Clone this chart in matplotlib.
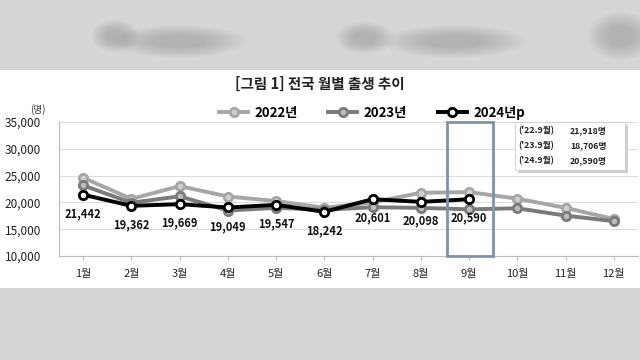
import matplotlib.pyplot as plt
from matplotlib.patches import Rectangle, Ellipse
import numpy as np

plt.rcParams['font.family'] = ['Noto Sans CJK KR', 'DejaVu Sans']

months = ['1월', '2월', '3월', '4월', '5월', '6월', '7월', '8월', '9월', '10월', '11월', '12월']
births_2022 = [24598, 20654, 23036, 21100, 20250, 18988, 20000, 21800, 21918, 20700, 18981, 16900]
births_2023 = [23179, 19939, 21138, 18484, 18988, 18615, 19102, 18984, 18706, 18904, 17531, 16500]
births_2024 = [21442, 19362, 19669, 19049, 19547, 18242, 20601, 20098, 20590]
yticks = [10000, 15000, 20000, 25000, 30000, 35000]
note_lines = [("('22.9월)", '21,918명'), ("('23.9월)", '18,706명'), ("('24.9월)", '20,590명')]

fig = plt.figure(figsize=(6.4, 3.6), dpi=100)
fig.patch.set_facecolor('#d6d6d6')

# white chart panel inside the grey screen
fig.patches.append(Rectangle((0, 72 / 360), 1, 218 / 360, transform=fig.transFigure,
                             facecolor='white', edgecolor='none', zorder=0))
# blurred caption blobs at the top
for cx, cy, w, h in [(0.18, 0.9, 0.05, 0.06), (0.28, 0.885, 0.14, 0.06),
                     (0.57, 0.895, 0.06, 0.06), (0.71, 0.885, 0.15, 0.06), (0.97, 0.9, 0.07, 0.09)]:
    for k in range(10):
        s = 1.5 - k * 0.1
        fig.patches.append(Ellipse((cx, cy), w * s, h * s, transform=fig.transFigure,
                                   facecolor='#8a8a8a', edgecolor='none', alpha=0.05, zorder=0))

ax = fig.add_axes([59 / 640, 1 - 256 / 360, 579 / 640, 134 / 360])
ax.set_zorder(3)
ax.set_facecolor('none')
x = np.arange(1, 13)

ax.plot(x, births_2022, color='#a6a6a6', lw=2.8, marker='o', ms=6, mfc='#d0d0d0',
        mec='#a6a6a6', mew=2, label='2022년', zorder=3)
ax.plot(x, births_2023, color='#7a7a7a', lw=2.8, marker='o', ms=6, mfc='#bdbdbd',
        mec='#7a7a7a', mew=2, label='2023년', zorder=4)
x24 = np.arange(1, len(births_2024) + 1)
ax.plot(x24, births_2024, color='black', lw=2.8, marker='o', ms=6, mfc='white',
        mec='black', mew=2, label='2024년p', zorder=5)

for xi, v in zip(x24, births_2024):
    ax.annotate(f'{v:,}', (xi, v), xytext=(0, -9), textcoords='offset points',
                ha='center', va='top', fontsize=8, fontweight='bold', color='#111111', zorder=6)

ax.set_xlim(0.5, 12.5)
ax.set_ylim(10000, 35000)
ax.set_yticks(yticks)
ax.set_yticklabels([f'{t:,}' for t in yticks], fontsize=8.5, color='#222222')
ax.set_xticks(x)
ax.set_xticklabels(months, fontsize=8, color='#222222')
ax.tick_params(axis='y', length=0, pad=13)
ax.tick_params(axis='x', length=3, color='#bbbbbb', pad=6)
ax.grid(axis='y', color='#dddddd', lw=0.8)
ax.set_axisbelow(True)
for s in ['top', 'right']:
    ax.spines[s].set_visible(False)
ax.spines['left'].set_color('#bbbbbb')
ax.spines['bottom'].set_color('#bbbbbb')

# highlight of September
ax.add_patch(Rectangle((8.55, 10000), 0.95, 25000, fill=False, edgecolor='#7f93ab',
                       lw=2, zorder=7, clip_on=False))

# note box
bx0, by0 = 515 / 640, 1 - 170 / 360
fig.patches.append(Rectangle((bx0 + 0.004, by0 - 0.008), 110 / 640, 48 / 360,
                             transform=fig.transFigure, facecolor='#cfcfcf', edgecolor='none', zorder=4))
fig.patches.append(Rectangle((bx0, by0), 110 / 640, 48 / 360, transform=fig.transFigure,
                             facecolor='white', edgecolor='#cccccc', lw=0.6, zorder=4))
for i, (a, b) in enumerate(note_lines):
    yy = 1 - (131 + i * 15) / 360
    fig.text(518 / 640, yy, a, fontsize=6.3, fontweight='bold', va='center', color='#222222', zorder=5)
    fig.text(570 / 640, yy, b, fontsize=6.3, fontweight='bold', va='center', color='#222222', zorder=5)

fig.text(320 / 640, 1 - 84 / 360, '[그림 1] 전국 월별 출생 추이', ha='center', va='center',
         fontsize=10.5, fontweight='bold', color='#222222')
fig.text(38 / 640, 1 - 110 / 360, '(명)', ha='center', va='center', fontsize=7, color='#333333')

fig.legend(loc='center', bbox_to_anchor=(372 / 640, 1 - 113 / 360), ncol=3, frameon=False,
           prop={'size': 9.5, 'weight': 'bold'}, handlelength=2.2, columnspacing=2.3, handletextpad=0.5)

fig.savefig('out.png', dpi=100, facecolor=fig.get_facecolor())
